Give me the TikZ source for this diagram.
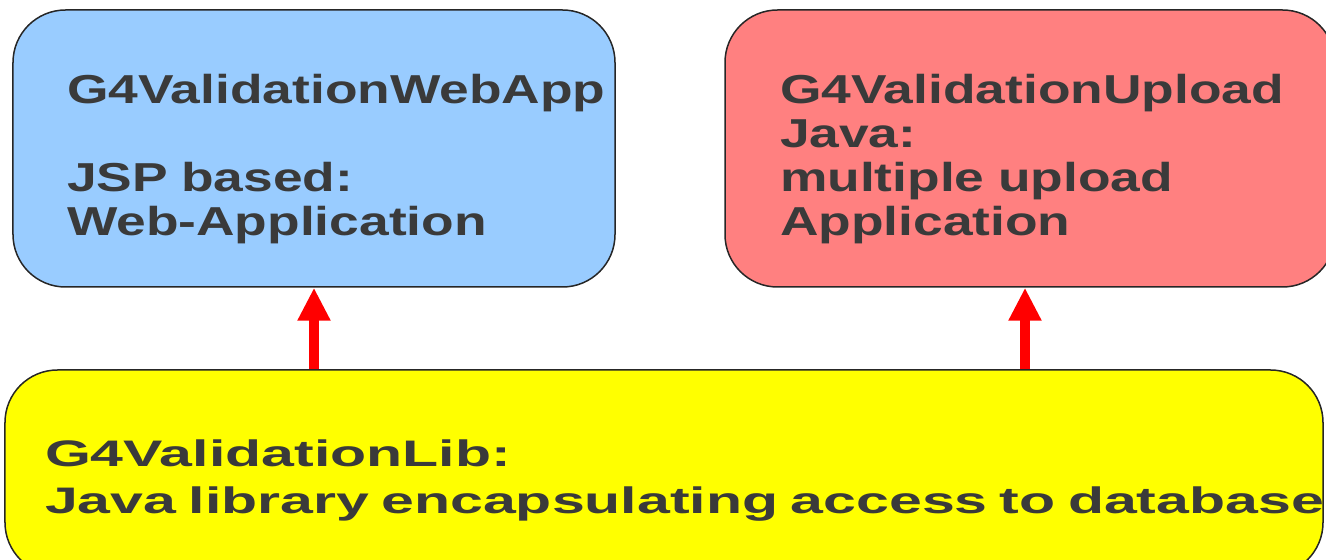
\documentclass[tikz,border=0pt]{standalone}
\usepackage{fontspec}
\newfontfamily\boxfont{Liberation Sans}[FakeStretch=1.32]
\newfontfamily\libfont{Liberation Sans}[FakeStretch=1.6]
\usetikzlibrary{arrows.meta, positioning, calc}
\definecolor{appBlue}{RGB}{153,204,255}
\definecolor{uploadRed}{RGB}{255,128,128}
\definecolor{libYellow}{RGB}{255,255,0}
\definecolor{textGray}{RGB}{58,58,58}

\begin{document}
\begin{tikzpicture}[
    module/.style={rectangle, draw=black!85, line width=0.03cm, rounded corners=1.05cm, align=left, text=textGray, inner ysep=0pt},
    topmodule/.style={module, minimum height=5.54cm, font=\boxfont\bfseries\fontsize{23}{25}\selectfont},
    arrow/.style={-{Triangle[length=0.66cm, width=0.62cm]}, line width=0.2cm, red}
]
\useasboundingbox (0,0) rectangle (26.52,11.2);
\clip (0,0) rectangle (26.52,11.2);

\node[module, fill=libYellow, minimum width=26.36cm, minimum height=4.1cm, inner xsep=0.8cm, text width=24.76cm,
      font=\libfont\bfseries\fontsize{21}{26.7}\selectfont] (lib) at (13.28,1.75) {%
    \rule{0pt}{24.4pt}G4ValidationLib:\\
    \mbox{Java library encapsulating access to database}%
};

\node[topmodule, fill=appBlue, minimum width=12.04cm, inner xsep=1.08cm, text width=9.88cm] (webapp) at (6.28,8.23) {%
    \rule{0pt}{28.4pt}G4ValidationWebApp\\[25pt]
    JSP based:\\
    Web-Application%
};

\node[topmodule, fill=uploadRed, minimum width=12.2cm, inner xsep=1.1cm, text width=10cm] (upload) at (20.6,8.23) {%
    \rule{0pt}{28.4pt}G4ValidationUpload\\
    Java:\\
    multiple upload\\
    Application%
};

\draw[arrow] (lib.north -| webapp) -- (webapp.south);
\draw[arrow] ($(lib.north -| upload)+(-0.1,0)$) -- ($(upload.south)+(-0.1,0)$);

\end{tikzpicture}
\end{document}
